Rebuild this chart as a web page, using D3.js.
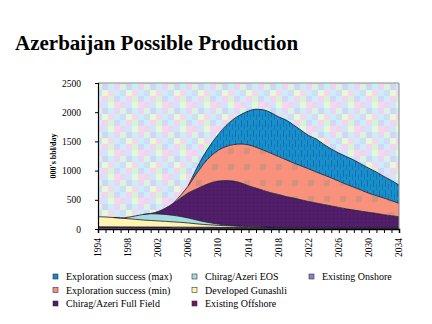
<!doctype html>
<html lang="en">
  <head>
    <meta charset="UTF-8" />
    <title>Azerbaijan Possible Production</title>
    <script src="https://d3js.org/d3.v7.min.js"></script>
    <style>
      body {
        margin: 0;
        background: #ffffff;
        font-family: 'Liberation Serif', 'Times New Roman', serif;
      }
      svg text {
        font-family: 'Liberation Serif', 'Times New Roman', serif;
      }
    </style>
  </head>
  <body>
    <svg id="chart" width="432" height="324"></svg>
    <script>
      // years on the category axis
      const years = [
        1994, 1995, 1996, 1997, 1998, 1999, 2000, 2001, 2002, 2003, 2004, 2005, 2006, 2007,
        2008, 2009, 2010, 2011, 2012, 2013, 2014, 2015, 2016, 2017, 2018, 2019, 2020, 2021,
        2022, 2023, 2024, 2025, 2026, 2027, 2028, 2029, 2030, 2031, 2032, 2033, 2034,
      ]
      const yearLabels = [1994, 1998, 2002, 2006, 2010, 2014, 2018, 2022, 2026, 2030, 2034]
      const yTicks = [0, 500, 1000, 1500, 2000, 2500]

      // series, bottom of stack first (000's bbl/day)
      const existingOnshore = [
        18, 18, 17, 17, 17, 16, 16, 16, 15, 15, 15, 15, 14, 14, 14, 14, 13, 13, 13, 13, 12, 12,
        12, 12, 12, 11, 11, 11, 11, 11, 11, 10, 10, 10, 10, 10, 10, 10, 10, 10, 10,
      ]
      const existingOffshore = [
        20, 20, 20, 19, 19, 19, 18, 18, 18, 18, 17, 17, 17, 16, 16, 16, 15, 15, 15, 15, 14, 14,
        14, 14, 13, 13, 13, 13, 13, 12, 12, 12, 12, 12, 12, 12, 12, 12, 12, 12, 12,
      ]
      const developedGunashli = [
        172, 168, 160, 150, 140, 130, 120, 112, 105, 98, 90, 82, 72, 60, 48, 40, 34, 28, 24, 20,
        16, 12, 8, 0, 0, 0, 0, 0, 0, 0, 0, 0, 0, 0, 0, 0, 0, 0, 0, 0, 0,
      ]
      const chiragEOS = [
        0, 0, 0, 5, 25, 60, 95, 115, 120, 118, 112, 100, 85, 68, 50, 35, 22, 12, 5, 0, 0, 0, 0,
        0, 0, 0, 0, 0, 0, 0, 0, 0, 0, 0, 0, 0, 0, 0, 0, 0, 0,
      ]
      const chiragFullField = [
        0, 0, 0, 0, 0, 0, 0, 5, 42, 111, 206, 316, 432, 522, 612, 685, 736, 762, 763, 742, 698,
        662, 626, 594, 565, 531, 506, 476, 446, 422, 397, 373, 348, 323, 303, 283, 263, 243, 223,
        206, 188,
      ]
      const explorationMin = [
        0, 0, 0, 0, 0, 0, 0, 0, 0, 0, 0, 50, 120, 250, 370, 460, 530, 580, 625, 665, 700, 700,
        690, 676, 650, 630, 600, 580, 560, 530, 505, 480, 450, 420, 390, 360, 326, 305, 285, 257,
        230,
      ]
      const explorationMax = [
        0, 0, 0, 0, 0, 0, 0, 0, 0, 0, 0, 0, 0, 80, 140, 200, 270, 360, 435, 505, 580, 650, 690,
        694, 680, 680, 650, 610, 570, 565, 525, 495, 480, 475, 466, 445, 429, 405, 370, 345, 313,
      ]

      const seriesNames = [
        'Existing Onshore',
        'Existing Offshore',
        'Developed Gunashli',
        'Chirag/Azeri EOS',
        'Chirag/Azeri Full Field',
        'Exploration success (min)',
        'Exploration success (max)',
      ]
      const seriesValues = [
        existingOnshore,
        existingOffshore,
        developedGunashli,
        chiragEOS,
        chiragFullField,
        explorationMin,
        explorationMax,
      ]
      const colors = {
        'Existing Onshore': '#8c82c8',
        'Existing Offshore': '#7a1060',
        'Developed Gunashli': '#fff4b0',
        'Chirag/Azeri EOS': '#a6dce0',
        'Chirag/Azeri Full Field': '#4e1c66',
        'Exploration success (min)': '#f8927c',
        'Exploration success (max)': '#1689c4',
      }
      // legend order as in the reference (column by column)
      const legendOrder = [
        'Exploration success (max)',
        'Exploration success (min)',
        'Chirag/Azeri Full Field',
        'Chirag/Azeri EOS',
        'Developed Gunashli',
        'Existing Offshore',
        'Existing Onshore',
      ]

      const table = years.map((yr, i) => {
        const row = { year: yr }
        seriesNames.forEach((name, k) => (row[name] = seriesValues[k][i]))
        return row
      })

      const svg = d3.select('#chart')
      const margin = { left: 98, right: 399, top: 83, bottom: 229 }

      const x = d3.scaleLinear().domain([1994, 2034]).range([margin.left, margin.right])
      const y = d3.scaleLinear().domain([0, 2500]).range([margin.bottom, margin.top])

      // title
      svg
        .append('text')
        .attr('x', 15)
        .attr('y', 50)
        .attr('font-size', 21)
        .attr('font-weight', 'bold')
        .attr('fill', '#000')
        .text('Azerbaijan Possible Production')

      // pastel checked plot background
      const defs = svg.append('defs')
      const bgPat = defs
        .append('pattern')
        .attr('id', 'bg')
        .attr('patternUnits', 'userSpaceOnUse')
        .attr('width', 24)
        .attr('height', 24)
      const bgCols = [
        ['#cfeefa', '#f4d2f0', '#d6f4d4', '#d2d6f8'],
        ['#f2d4f2', '#cde8f8', '#e6f6d6', '#f6d8ec'],
        ['#d8f4dc', '#d4d4f6', '#c8f0f4', '#ecd4f4'],
        ['#d0dcf8', '#e6f8d4', '#f4d6ee', '#ccecf8'],
      ]
      bgCols.forEach((row, r) =>
        row.forEach((c, k) =>
          bgPat
            .append('rect')
            .attr('x', k * 6)
            .attr('y', r * 6)
            .attr('width', 6)
            .attr('height', 6)
            .attr('fill', c)
        )
      )

      // textured fills for the big areas
      const salmonPat = defs
        .append('pattern')
        .attr('id', 'salmon')
        .attr('patternUnits', 'userSpaceOnUse')
        .attr('width', 16)
        .attr('height', 16)
      salmonPat.append('rect').attr('width', 16).attr('height', 16).attr('fill', '#f8927c')
      salmonPat
        .append('rect')
        .attr('x', 4)
        .attr('y', 4)
        .attr('width', 6)
        .attr('height', 6)
        .attr('fill', '#d8907c')

      const bluePat = defs
        .append('pattern')
        .attr('id', 'blue')
        .attr('patternUnits', 'userSpaceOnUse')
        .attr('width', 6)
        .attr('height', 10)
      bluePat.append('rect').attr('width', 6).attr('height', 10).attr('fill', '#1a8ec6')
      bluePat
        .append('rect')
        .attr('x', 1)
        .attr('width', 1)
        .attr('height', 7)
        .attr('fill', '#0a6fc0')
      bluePat
        .append('rect')
        .attr('x', 4)
        .attr('y', 4)
        .attr('width', 1)
        .attr('height', 6)
        .attr('fill', '#0f78c4')

      const purplePat = defs
        .append('pattern')
        .attr('id', 'purple')
        .attr('patternUnits', 'userSpaceOnUse')
        .attr('width', 4)
        .attr('height', 4)
      purplePat.append('rect').attr('width', 4).attr('height', 4).attr('fill', '#521e6a')
      purplePat
        .append('rect')
        .attr('x', 1)
        .attr('y', 2)
        .attr('width', 1)
        .attr('height', 1)
        .attr('fill', '#3c1458')

      const fills = {
        'Exploration success (max)': 'url(#blue)',
        'Exploration success (min)': 'url(#salmon)',
        'Chirag/Azeri Full Field': 'url(#purple)',
      }

      svg
        .append('rect')
        .attr('x', margin.left)
        .attr('y', margin.top)
        .attr('width', margin.right - margin.left)
        .attr('height', margin.bottom - margin.top)
        .attr('fill', 'url(#bg)')

      // stacked areas
      const stack = d3.stack().keys(seriesNames)
      const layers = stack(table)

      const area = d3
        .area()
        .x((d) => x(d.data.year))
        .y0((d) => y(d[0]))
        .y1((d) => y(d[1]))
        .curve(d3.curveMonotoneX)

      svg
        .append('g')
        .selectAll('path')
        .data(layers)
        .enter()
        .append('path')
        .attr('d', area)
        .attr('fill', (d) => fills[d.key] || colors[d.key])

      // dark outline along the top of each layer, only where it has thickness
      const thick = (layer, i) => i >= 0 && i < layer.length && layer[i][1] - layer[i][0] > 0
      svg
        .append('g')
        .selectAll('path')
        .data(layers)
        .enter()
        .append('path')
        .attr('d', (layer) =>
          d3
            .line()
            .defined((p, i) => thick(layer, i) || thick(layer, i - 1) || thick(layer, i + 1))
            .x((p) => x(p.data.year))
            .y((p) => y(p[1]))
            .curve(d3.curveMonotoneX)(layer)
        )
        .attr('fill', 'none')
        .attr('stroke', '#1a1a2a')
        .attr('stroke-width', 0.8)

      // plot frame (grey top/right)
      svg
        .append('path')
        .attr('d', `M${margin.left},${margin.top}H${margin.right}V${margin.bottom}`)
        .attr('fill', 'none')
        .attr('stroke', '#8a8a8a')
        .attr('stroke-width', 1)

      // y axis
      const yAxis = svg
        .append('g')
        .attr('transform', `translate(${margin.left},0)`)
        .call(
          d3
            .axisLeft(y)
            .tickValues(yTicks)
            .tickSize(3)
            .tickPadding(14)
            .tickFormat(d3.format('d'))
        )
      yAxis.select('.domain').attr('stroke', '#000').attr('stroke-width', 1.2)
      yAxis
        .selectAll('text')
        .attr('font-family', "'Liberation Serif', 'Times New Roman', serif")
        .attr('font-size', 9.5)
        .attr('fill', '#000')

      // x axis: a tick every year, labels every 4 years
      const xAxis = svg
        .append('g')
        .attr('transform', `translate(0,${margin.bottom})`)
        .call(d3.axisBottom(x).tickValues(years).tickSize(4).tickFormat(''))
      xAxis.select('.domain').attr('stroke', '#000').attr('stroke-width', 1.5)

      svg
        .append('g')
        .selectAll('text')
        .data(yearLabels)
        .enter()
        .append('text')
        .attr('transform', (d) => `translate(${x(d) + 3},238) rotate(-90)`)
        .attr('text-anchor', 'end')
        .attr('font-size', 9.5)
        .attr('fill', '#000')
        .text((d) => d)

      // y axis title
      svg
        .append('text')
        .attr('transform', 'translate(56,156) rotate(-90)')
        .attr('text-anchor', 'middle')
        .attr('font-size', 8)
        .attr('font-weight', 'bold')
        .attr('fill', '#000')
        .text("000's bbl/day")

      // legend, three columns
      const colX = [56, 195, 312]
      const rowY = [280, 293.5, 307]
      const legend = svg
        .append('g')
        .selectAll('g')
        .data(legendOrder)
        .enter()
        .append('g')
        .attr('transform', (d, i) => `translate(${colX[Math.floor(i / 3)]},${rowY[i % 3]})`)

      legend
        .append('rect')
        .attr('x', -3)
        .attr('y', -6)
        .attr('width', 5)
        .attr('height', 5)
        .attr('fill', (d) => colors[d])
        .attr('stroke', '#333')
        .attr('stroke-width', 0.6)

      legend
        .append('text')
        .attr('x', 10)
        .attr('y', 0)
        .attr('font-size', 10)
        .attr('fill', '#000')
        .text((d) => d)
    </script>
  </body>
</html>
